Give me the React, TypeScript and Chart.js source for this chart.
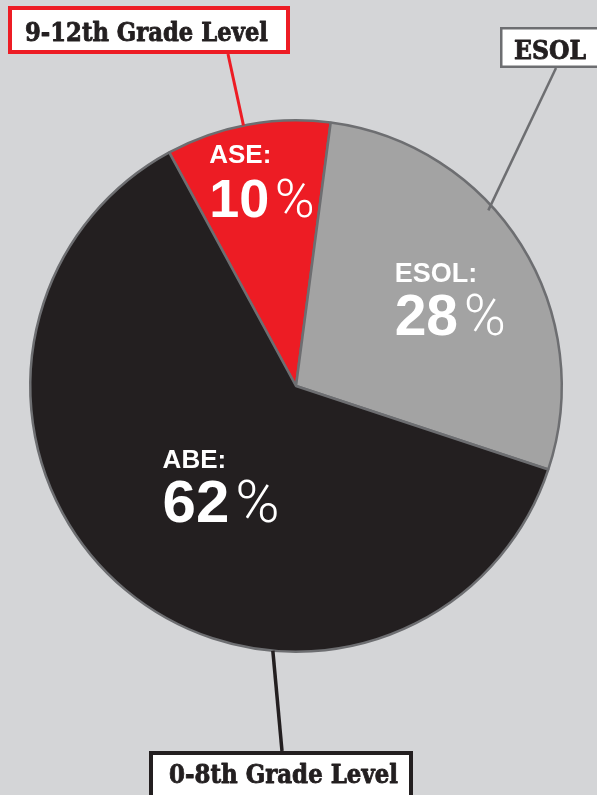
import { useEffect, useRef } from "react";
import { Chart, registerables } from "chart.js";

Chart.register(...registerables);

// ---- data ----
const categories = ["ASE", "ESOL", "ABE"];
const shares = [10, 28, 62];
const valueLabels = ["10", "28", "62"];
const calloutLabels = ["9-12th Grade Level", "ESOL", "0-8th Grade Level"];

// ---- styles ----
const sliceColors = ["#ed1c24", "#a3a3a3", "#231f20"];
const edgeColor = "#6d6e71";
const bgColor = "#d4d5d7";
const inkColor = "#231f20";

const labelStyles = [
  { rf: 0.785, dAngle: 1.1, size: 54, head: 26 },
  { rf: 0.667, dAngle: 2.6, size: 57, head: 27 },
  { rf: 0.468, dAngle: -2.9, size: 60, head: 26 },
];

const calloutStyles = [
  { box: [10, 8, 278, 44], stroke: "#ed1c24", lw: 4, textX: 25, textBase: 41, textW: 243, from: [228, 54], angle: -11.4, rf: 1.0, lineW: 3 },
  { box: [501.25, 28.25, 120, 38.5], stroke: edgeColor, lw: 2.5, textX: 514, textBase: 59, textW: 72, from: [556, 68], angle: 47.6, rf: 0.98, lineW: 2.5 },
  { box: [151, 753, 260, 60], stroke: inkColor, lw: 4, textX: 169, textBase: 783, textW: 229, from: [282, 751], angle: 185, rf: 1.0, lineW: 3.5 },
];

const overlayPlugin = {
  id: "overlay",
  afterDatasetsDraw(chart: any) {
    const ctx: CanvasRenderingContext2D = chart.ctx;
    const arcs: any[] = chart.getDatasetMeta(0).data;
    if (!arcs.length) return;
    const cx = arcs[0].x;
    const cy = arcs[0].y;
    const R = arcs[0].outerRadius;

    // inner labels
    arcs.forEach((arc, i) => {
      const st = labelStyles[i];
      const mid = (arc.startAngle + arc.endAngle) / 2 + (st.dAngle * Math.PI) / 180;
      const ax = cx + st.rf * R * Math.cos(mid);
      const ay = cy + st.rf * R * Math.sin(mid);
      ctx.save();
      ctx.fillStyle = "#ffffff";
      ctx.textBaseline = "alphabetic";
      ctx.textAlign = "left";
      const headFont = `bold ${st.head}px "Liberation Sans", Arial, sans-serif`;
      const numFont = `bold ${st.size}px "Liberation Sans", Arial, sans-serif`;
      const pctFont = `300 ${st.size}px Roboto, "Liberation Sans", sans-serif`;
      const line1 = categories[i] + ":";
      ctx.font = headFont;
      const w1 = ctx.measureText(line1).width;
      ctx.font = numFont;
      const wd = ctx.measureText(valueLabels[i]).width;
      ctx.font = pctFont;
      const wp = ctx.measureText("%").width;
      const gap = st.size * 0.1;
      const blockW = Math.max(w1, wd + gap + wp);
      const left = ax - blockW / 2;
      ctx.font = headFont;
      ctx.fillText(line1, left, ay - 17);
      ctx.font = numFont;
      ctx.fillText(valueLabels[i], left, ay + 36.5);
      ctx.font = pctFont;
      ctx.fillText("%", left + wd + gap, ay + 36.5);
      ctx.restore();
    });

    // callouts
    calloutStyles.forEach((c, i) => {
      const a = ((c.angle - 90) * Math.PI) / 180;
      const px = cx + c.rf * R * Math.cos(a);
      const py = cy + c.rf * R * Math.sin(a);
      ctx.save();
      ctx.strokeStyle = c.stroke;
      ctx.lineWidth = c.lineW;
      ctx.beginPath();
      ctx.moveTo(c.from[0], c.from[1]);
      ctx.lineTo(px, py);
      ctx.stroke();
      const [bx, by, bw, bh] = c.box;
      ctx.fillStyle = "#ffffff";
      ctx.fillRect(bx, by, bw, bh);
      ctx.lineWidth = c.lw;
      ctx.strokeRect(bx, by, bw, bh);
      ctx.fillStyle = inkColor;
      ctx.strokeStyle = inkColor;
      ctx.font = 'bold 26px "DejaVu Serif", serif';
      ctx.textAlign = "left";
      ctx.textBaseline = "alphabetic";
      const m = ctx.measureText(calloutLabels[i]).width;
      const s = c.textW / m;
      ctx.translate(c.textX, c.textBase);
      ctx.scale(s, 1);
      ctx.lineWidth = 0.9;
      ctx.lineJoin = "round";
      ctx.fillText(calloutLabels[i], 0, 0);
      ctx.strokeText(calloutLabels[i], 0, 0);
      ctx.restore();
    });
  },
};

export default function App() {
  const ref = useRef<HTMLCanvasElement | null>(null);
  useEffect(() => {
    if (!ref.current) return;
    const chart = new Chart(ref.current, {
      type: "pie",
      data: {
        labels: categories,
        datasets: [
          {
            data: shares,
            backgroundColor: sliceColors,
            borderColor: edgeColor,
            borderWidth: 2.5,
          },
        ],
      },
      options: {
        animation: false,
        responsive: true,
        maintainAspectRatio: false,
        rotation: -28.5,
        layout: { padding: { left: 29, right: 34, top: 119, bottom: 142 } },
        plugins: {
          legend: { display: false },
          tooltip: { enabled: false },
        },
        events: [],
      },
      plugins: [overlayPlugin],
    });
    return () => chart.destroy();
  }, []);
  return (
    <div
      style={{
        position: "absolute",
        left: 0,
        top: 0,
        width: 597,
        height: 795,
        background: bgColor,
        overflow: "hidden",
      }}
    >
      <canvas ref={ref} />
    </div>
  );
}
